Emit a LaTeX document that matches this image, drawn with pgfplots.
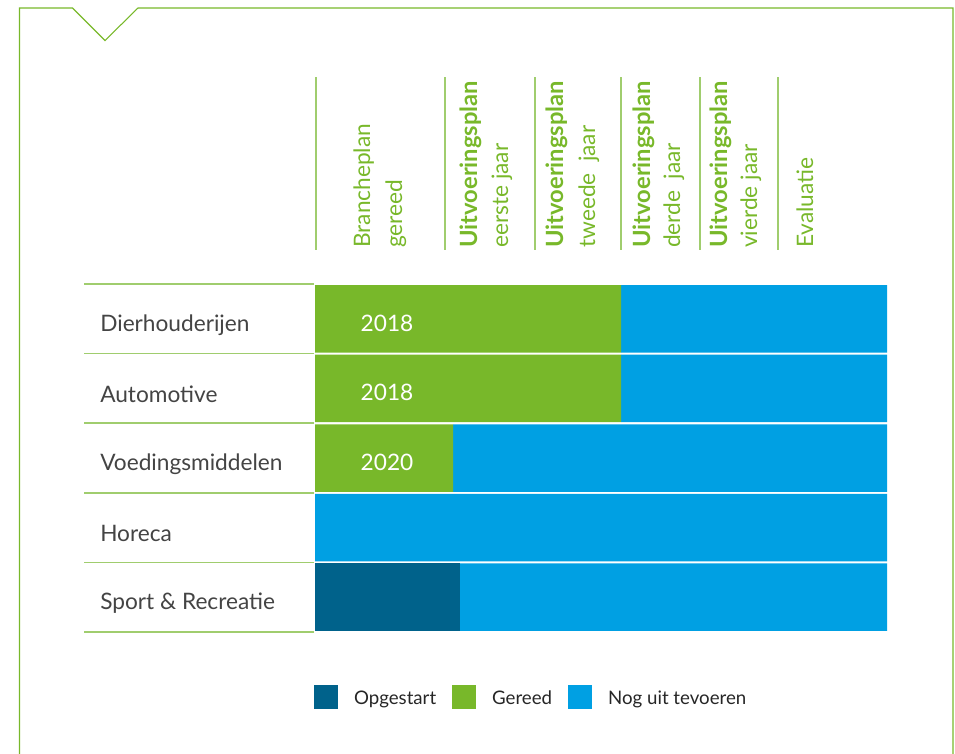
\documentclass[border=0pt]{standalone}
\usepackage{pgfplots}
\pgfplotsset{compat=1.18}
\usepackage{fontspec}
\setmainfont{Lato}
\definecolor{cDark}{RGB}{0,98,139}
\definecolor{cGreen}{RGB}{120,184,42}
\definecolor{cBlue}{RGB}{0,160,227}
\definecolor{cLine}{RGB}{160,205,110}
\definecolor{cText}{RGB}{68,68,68}
\newcommand\catfont{\fontsize{17}{20}\selectfont}
\newcommand\hfont{\fontsize{17}{20}\selectfont}
\pgfplotsset{sq legend/.style={legend image code/.code={\fill[##1] (0pt,-8pt) rectangle (18pt,10pt);}}}
\begin{document}
\begin{tikzpicture}
\useasboundingbox (0,0) rectangle (716.25pt,-564.75pt);
\begin{scope}[x=0.75pt,y=-0.75pt]
\draw[cGreen, line width=0.8pt] (19.5,760) -- (19.5,8) -- (72.5,8) -- (105,40.5) -- (138,8) -- (953,8) -- (953,760);
\foreach \x in {316,445,535,621,700,778} \draw[cLine,line width=1pt] (\x,77) -- (\x,250);
\begin{scope}[every node/.style={rotate=90, anchor=base west, inner sep=0pt, text=cGreen, font=\hfont}]
\node at (370,248) {Brancheplan};
\node at (402,248) {gereed};
\node[font=\fontsize{17.8}{20}\selectfont\bfseries] at (477,248) {Uitvoeringsplan};
\node at (508,248) {eerste jaar};
\node[font=\fontsize{17.8}{20}\selectfont\bfseries] at (563,248) {Uitvoeringsplan};
\node at (595,248) {tweede\ \ jaar};
\node[font=\fontsize{17.8}{20}\selectfont\bfseries] at (650,248) {Uitvoeringsplan};
\node at (680,248) {derde\ \ jaar};
\node[font=\fontsize{17.8}{20}\selectfont\bfseries] at (727,248) {Uitvoeringsplan};
\node at (757,248) {vierde jaar};
\node at (813,248) {Evaluatie};
\end{scope}
\foreach \y in {284,353.6,423.2,492.8,562.4,632} \draw[cLine, line width=1.2pt] (84,\y) -- (314,\y);
\end{scope}
\begin{axis}[at={(236.25pt,-474pt)}, anchor=south west, scale only axis,
  width=429pt, height=261pt, xmin=0, xmax=572, ymin=-0.5, ymax=4.5,
  y dir=reverse, xbar stacked, bar width=0.97,
  axis line style={draw=none}, xtick=\empty, ytick={0,1,2,3,4},
  yticklabels={Dierhouderijen,Automotive,Voedingsmiddelen,Horeca,Sport \& Recreatie},
  major tick length=0pt,
  yticklabel style={anchor=west, xshift=-161.25pt, yshift=-4.5pt, inner xsep=0pt, font=\catfont, text=cText},
  clip=false,
  legend style={draw=none, fill=none, legend columns=3, at={(axis description cs:0,0)},
    anchor=west, yshift=-49pt, xshift=-0.75pt, inner sep=0pt, outer sep=0pt,
    font=\fontsize{14}{16}\selectfont, text=black!85,
    nodes={inner sep=0pt},
    /tikz/every odd column/.append style={column sep=12pt},
    /tikz/every even column/.append style={column sep=12pt}},
]
\addplot[fill=cDark, draw=none, sq legend] coordinates {(0,0) (0,1) (0,2) (0,3) (145,4)};
\addplot[fill=cGreen, draw=none, sq legend] coordinates {(306,0) (306,1) (138,2) (0,3) (0,4)};
\addplot[fill=cBlue, draw=none, sq legend] coordinates {(266,0) (266,1) (434,2) (572,3) (427,4)};
\legend{Opgestart, Gereed, Nog uit tevoeren}
\end{axis}
\begin{scope}[x=0.75pt,y=-0.75pt]
\node[text=white, font=\catfont, inner sep=0pt] at (387,323) {2018};
\node[text=white, font=\catfont, inner sep=0pt] at (387,392) {2018};
\node[text=white, font=\catfont, inner sep=0pt] at (387,462) {2020};
\end{scope}
\end{tikzpicture}
\end{document}
